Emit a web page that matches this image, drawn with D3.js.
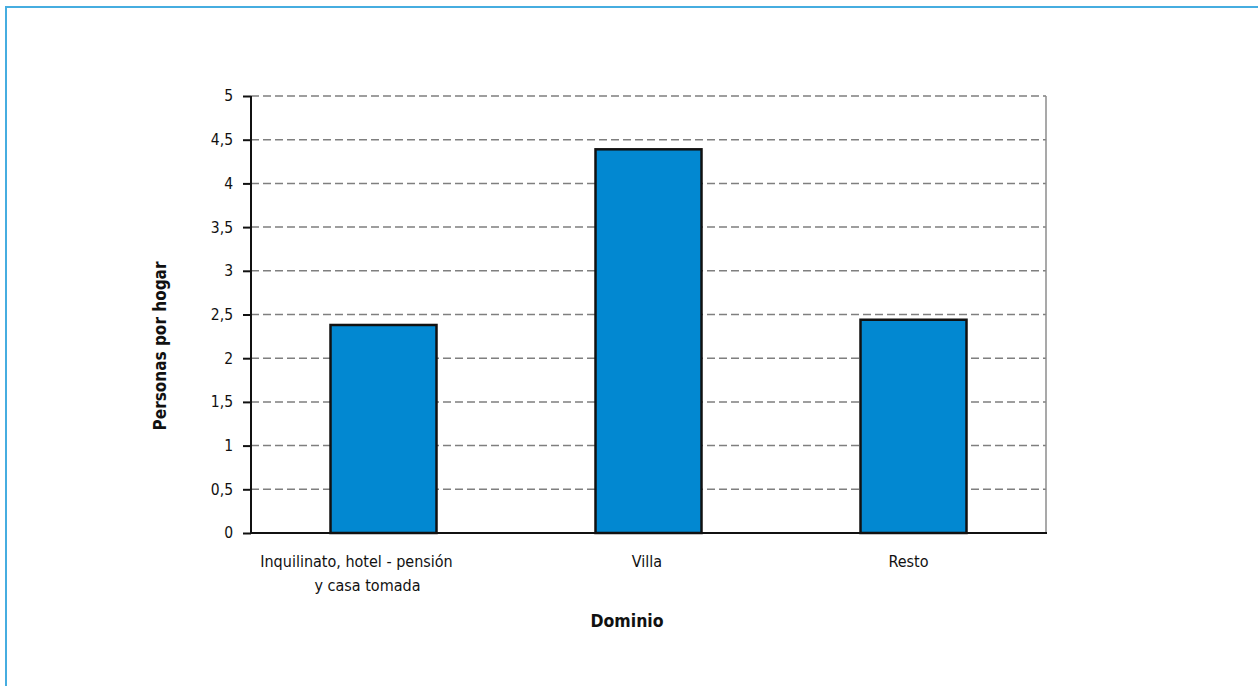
<!DOCTYPE html>
<html>
<head>
<meta charset="utf-8">
<script src="https://cdn.jsdelivr.net/npm/d3@7"></script>
<style>
  html, body { margin: 0; padding: 0; background: #fff; }
  svg { display: block; }
  text { font-family: "DejaVu Sans Condensed", "Open Sans", sans-serif; }
</style>
</head>
<body>
<svg id="chart" width="1258" height="686"></svg>
<script>
const categories = [["Inquilinato, hotel - pensión", "y casa tomada"], ["Villa"], ["Resto"]];
const values = [2.38, 4.39, 2.44];
const yTicks = [0, 0.5, 1, 1.5, 2, 2.5, 3, 3.5, 4, 4.5, 5];
const yTitle = "Personas por hogar";
const xTitle = "Dominio";

const svg = d3.select("#chart");
const W = 1258, H = 686;
const m = { left: 251, right: 1046, top: 96, bottom: 533 };
// per-line horizontal label shifts (layout only)
const labelShift = [[-27, -16], [-1.5], [-5]];

// outer frame
svg.append("rect")
  .attr("x", 6).attr("y", 7).attr("width", W + 10).attr("height", H + 10)
  .attr("fill", "none").attr("stroke", "#46ade0").attr("stroke-width", 2);

const x = d3.scaleBand()
  .domain(categories.map((d, i) => i))
  .range([m.left, m.right])
  .paddingInner(0.6).paddingOuter(0.3);

const y = d3.scaleLinear().domain([0, 5]).range([m.bottom, m.top]);

// gridlines
svg.append("g").selectAll("line")
  .data(yTicks.filter(t => t > 0))
  .join("line")
  .attr("x1", m.left).attr("x2", m.right)
  .attr("y1", d => y(d)).attr("y2", d => y(d))
  .attr("stroke", "#7f7f7f").attr("stroke-width", 1.5)
  .attr("stroke-dasharray", "8,4");

// right border of plot
svg.append("line")
  .attr("x1", m.right).attr("x2", m.right)
  .attr("y1", m.top).attr("y2", m.bottom)
  .attr("stroke", "#8c8c8c").attr("stroke-width", 1.5);

// bars
svg.append("g").selectAll("rect")
  .data(values)
  .join("rect")
  .attr("x", (d, i) => x(i))
  .attr("y", d => y(d))
  .attr("width", x.bandwidth())
  .attr("height", d => y(0) - y(d))
  .attr("fill", "#0288d1")
  .attr("stroke", "#111")
  .attr("stroke-width", 2.5);

// y axis
const yAxis = d3.axisLeft(y)
  .tickValues(yTicks)
  .tickSize(8)
  .tickPadding(10)
  .tickFormat(d => String(d).replace(".", ","));
const gy = svg.append("g").attr("transform", `translate(${m.left},0)`).call(yAxis);
gy.select(".domain").attr("stroke", "#111").attr("stroke-width", 2).attr("d", `M0,${m.top}V${m.bottom}`);
gy.selectAll(".tick line").attr("stroke", "#111").attr("stroke-width", 2);
gy.selectAll(".tick text")
  .attr("fill", "#111")
  .style("font-size", "15.5px");

// x axis baseline
svg.append("line")
  .attr("x1", m.left - 1).attr("x2", m.right + 1)
  .attr("y1", m.bottom).attr("y2", m.bottom)
  .attr("stroke", "#111").attr("stroke-width", 2);

// x category labels
svg.append("g").selectAll("text")
  .data(categories)
  .join("text")
  .attr("text-anchor", "middle")
  .attr("fill", "#111")
  .style("font-size", "16px")
  .each(function (d, i) {
    const cx = x(i) + x.bandwidth() / 2;
    d3.select(this).selectAll("tspan")
      .data(d)
      .join("tspan")
      .attr("x", (t, j) => cx + labelShift[i][j])
      .attr("y", (t, j) => 567 + j * 24)
      .text(t => t);
  });

// axis titles
svg.append("text")
  .attr("x", 627)
  .attr("y", 627)
  .attr("text-anchor", "middle")
  .attr("fill", "#111")
  .style("font-size", "17.5px").style("font-weight", "bold")
  .text(xTitle);

svg.append("text")
  .attr("transform", `translate(166,346) rotate(-90)`)
  .attr("text-anchor", "middle")
  .attr("fill", "#111")
  .style("font-size", "17px").style("font-weight", "bold")
  .text(yTitle);
</script>
</body>
</html>
